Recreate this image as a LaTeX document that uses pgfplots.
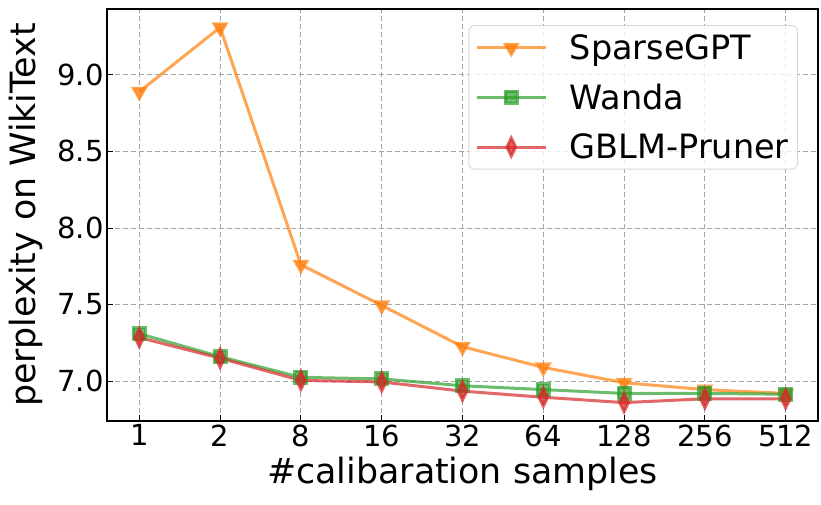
\documentclass[border=0pt]{standalone}
\usepackage{pgfplots}
\pgfplotsset{compat=1.18}
\usepackage{fontspec}
\setmainfont{DejaVu Sans}
\definecolor{cOrange}{HTML}{FF7F0E}
\definecolor{cGreen}{HTML}{2CA02C}
\definecolor{cRed}{HTML}{D62728}
\begin{document}
\begin{tikzpicture}
\begin{axis}[
  scale only axis, width=711bp, height=412bp,
  xmin=-0.4, xmax=8.4, ymin=6.74, ymax=9.43,
  xtick={0,...,8}, xticklabels={1,2,8,16,32,64,128,256,512},
  ytick={7,7.5,8,8.5,9},
  yticklabel style={/pgf/number format/.cd, fixed, fixed zerofill, precision=1},
  /pgf/number format/assume math mode=true,
  tick label style={font=\fontsize{29bp}{34bp}\selectfont},
  label style={font=\fontsize{34.8bp}{40bp}\selectfont},
  xlabel={\#calibaration samples}, ylabel={perplexity on WikiText},
  xlabel shift=4bp, ylabel shift=8bp,
  grid=major, major grid style={dash pattern=on 5bp off 3bp, black!35, line width=1bp},
  tick align=inside, xtick pos=bottom, ytick pos=left,
  major tick length=6bp, tick style={black, line width=1bp},
  axis line style={line width=1.2bp},
  legend cell align=left,
  legend style={at={(0.972,0.961)}, anchor=north east, draw=black!15, line width=1bp,
    rounded corners=6bp, fill=white, fill opacity=0.8, text opacity=1,
    font=\fontsize{33.5bp}{38bp}\selectfont, inner xsep=7bp, inner ysep=7bp, row sep=19bp,
    /tikz/every odd column/.append style={column sep=20bp}},
  legend image code/.code={
    \draw[mark repeat=2, mark phase=2, #1] plot coordinates {(0bp,0bp) (34bp,0bp) (69bp,0bp)};
  },
]
\addplot[cOrange, opacity=0.7, line width=3bp, mark=triangle*, mark size=6.8bp, mark options={rotate=180, solid}]
  coordinates {(0,8.89) (1,9.31) (2,7.76) (3,7.495) (4,7.225) (5,7.09) (6,6.99) (7,6.945) (8,6.92)};
\addlegendentry{SparseGPT}
\addplot[cGreen, opacity=0.7, line width=3bp, mark=square*, mark size=6bp, mark options={solid}]
  coordinates {(0,7.31) (1,7.16) (2,7.025) (3,7.015) (4,6.97) (5,6.945) (6,6.92) (7,6.92) (8,6.915)};
\addlegendentry{Wanda}
\addplot[cRed, opacity=0.7, line width=3bp, mark=diamond*, mark size=9bp, mark options={solid, xscale=0.65}]
  coordinates {(0,7.285) (1,7.15) (2,7.005) (3,6.995) (4,6.935) (5,6.895) (6,6.86) (7,6.885) (8,6.885)};
\addlegendentry{GBLM-Pruner}
\end{axis}
\pgfresetboundingbox
\useasboundingbox (-107bp,-84bp) rectangle (714bp,421bp);
\end{tikzpicture}
\end{document}
